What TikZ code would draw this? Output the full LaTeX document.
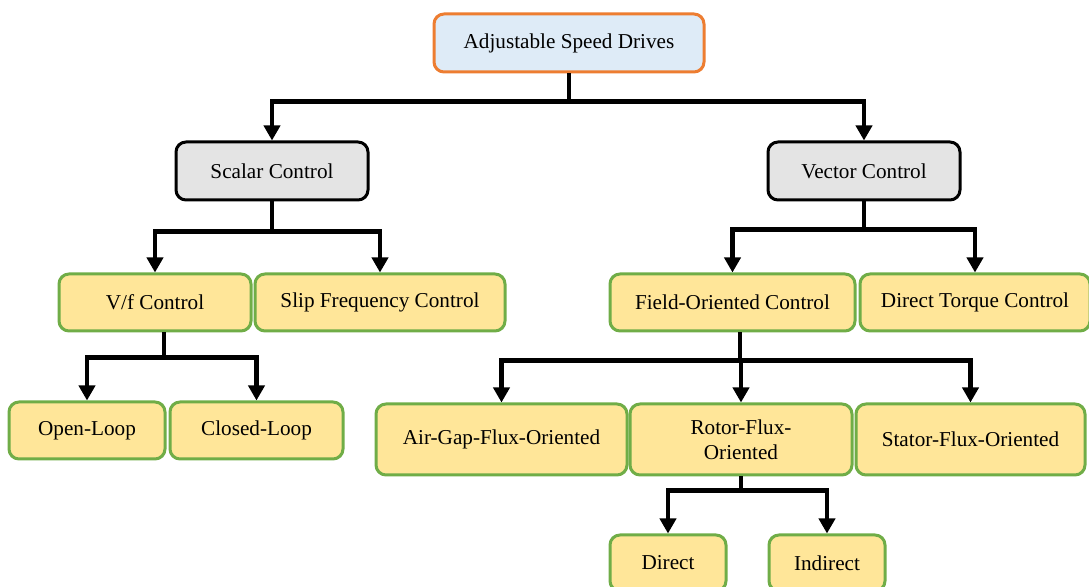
\documentclass[tikz,border=0pt]{standalone}
\usepackage{fontspec}
\setmainfont{Liberation Serif}
\usetikzlibrary{arrows.meta}

\definecolor{topfill}{HTML}{DEEBF7}
\definecolor{topline}{HTML}{ED7D31}
\definecolor{midfill}{HTML}{E4E4E4}
\definecolor{leaffill}{HTML}{FFE699}
\definecolor{leafline}{HTML}{70AD47}

\tikzset{
  box/.style={draw, rounded corners=5pt, line width=1.5pt, inner sep=0pt,
    align=center, font=\fontsize{10.6}{12.5}\selectfont},
  topbox/.style={box, draw=topline, fill=topfill},
  midbox/.style={box, draw=black, fill=midfill},
  leafbox/.style={box, draw=leafline, fill=leaffill},
  link/.style={line width=2.2pt},
  linkarrow/.style={link, -{Triangle[width=8pt,length=7.5pt]}}
}

\begin{document}
\begin{tikzpicture}[x=0.5pt, y=-0.5pt]
  \clip (0,0) rectangle (1089,587);

  \node[topbox, minimum width=135pt, minimum height=29pt] (asd) at (569,43) {Adjustable Speed Drives};

  \node[midbox, minimum width=96pt, minimum height=29pt] (scalar) at (272,171) {Scalar Control};
  \node[midbox, minimum width=96pt, minimum height=29pt] (vector) at (864,171) {Vector Control};

  \node[leafbox, minimum width=96pt, minimum height=28.5pt] (vf) at (155,302.5) {V/f Control};
  \node[leafbox, minimum width=125pt, minimum height=28.5pt] (slip) at (380,302.5) {Slip Frequency Control};
  \node[leafbox, minimum width=122.5pt, minimum height=28.5pt] (foc) at (732.5,302.5) {Field-Oriented Control};
  \node[leafbox, minimum width=115pt, minimum height=28.5pt] (dtc) at (975,302.5) {Direct Torque Control};

  \node[leafbox, minimum width=78pt, minimum height=28.5pt] (open) at (87,430.5) {Open-Loop};
  \node[leafbox, minimum width=86.5pt, minimum height=28.5pt] (closed) at (256.5,430.5) {Closed-Loop};

  \node[leafbox, minimum width=125.5pt, minimum height=35.5pt] (airgap) at (501.5,439.5) {Air-Gap-Flux-Oriented};
  \node[leafbox, minimum width=111pt, minimum height=35.5pt] (rotor) at (741,439.5) {Rotor-Flux-\\Oriented};
  \node[leafbox, minimum width=114.5pt, minimum height=35.5pt] (stator) at (970.5,439.5) {Stator-Flux-Oriented};

  \node[leafbox, minimum width=58pt, minimum height=28pt] (direct) at (668,563) {Direct};
  \node[leafbox, minimum width=58pt, minimum height=28pt] (indirect) at (827,563) {Indirect};

  \draw[link] (asd.south) -- ++(0,28) coordinate (b1);
  \draw[linkarrow] (b1) -| (scalar.north);
  \draw[linkarrow] (b1) -| (vector.north);

  \draw[link] (scalar.south) -- ++(0,30) coordinate (b2);
  \draw[linkarrow] (b2) -| (vf.north);
  \draw[linkarrow] (b2) -| (slip.north);

  \draw[link] (vector.south) -- ++(0,28) coordinate (b3);
  \draw[linkarrow] (b3) -| (foc.north);
  \draw[linkarrow] (b3) -| (dtc.north);

  \draw[link] ([xshift=4.5pt]vf.south) -- ++(0,25) coordinate (b4);
  \draw[linkarrow] (b4) -| (open.north);
  \draw[linkarrow] (b4) -| (closed.north);

  \draw[link] ([xshift=3.75pt]foc.south) -- ++(0,28) coordinate (b5);
  \draw[linkarrow] (b5) -| (airgap.north);
  \draw[linkarrow] (b5) -| (rotor.north);
  \draw[linkarrow] (b5) -| (stator.north);

  \draw[link] (rotor.south) -- ++(0,14) coordinate (b6);
  \draw[linkarrow] (b6) -| (direct.north);
  \draw[linkarrow] (b6) -| (indirect.north);
\end{tikzpicture}
\end{document}
